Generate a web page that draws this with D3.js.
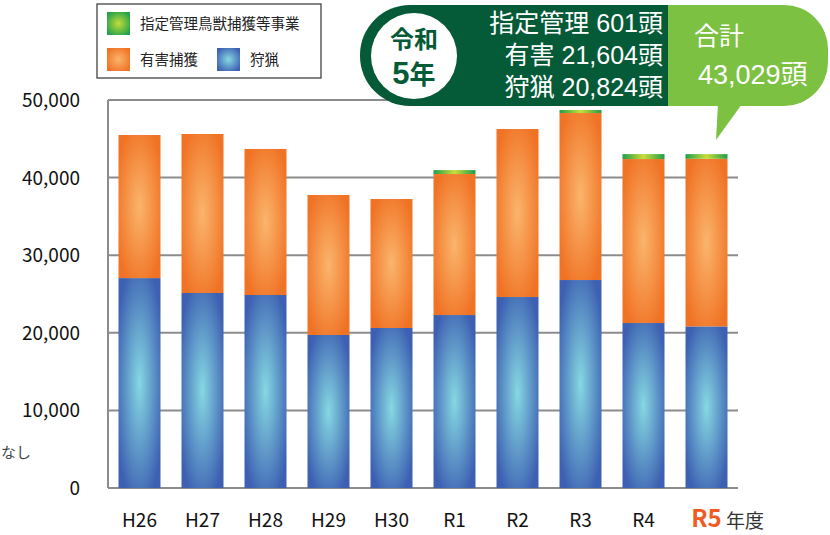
<!DOCTYPE html>
<html>
<head>
<meta charset="utf-8">
<script src="https://cdn.jsdelivr.net/npm/d3@7"></script>
<style>
  body { margin: 0; background: #fff; }
  svg { display: block; font-family: "Noto Sans CJK JP", "Noto Sans", sans-serif; }
  .cl { font-family: "Liberation Sans", "Noto Sans CJK JP", sans-serif; }
</style>
</head>
<body>
<div class="bar-chart"></div>
<script>
// data
const years = ['H26', 'H27', 'H28', 'H29', 'H30', 'R1', 'R2', 'R3', 'R4', 'R5'];
const hunting = [27050, 25130, 24870, 19720, 20620, 22290, 24610, 26800, 21260, 20824];
const nuisance = [18440, 20490, 18820, 18040, 16620, 18170, 21650, 21520, 21130, 21604];
const managed = [0, 0, 0, 0, 0, 510, 0, 390, 640, 601];
const yTicks = [0, 10000, 20000, 30000, 40000, 50000];

const margin = {top: 100, right: 92, bottom: 47, left: 108};
const width = 830, height = 535;
const innerW = width - margin.left - margin.right;
const innerH = height - margin.top - margin.bottom;

const svg = d3.select('.bar-chart').append('svg')
  .attr('width', width)
  .attr('height', height);

// gradients
const defs = svg.append('defs');
function radial(id, inner, outer) {
  let g = defs.append('radialGradient').attr('id', id)
    .attr('cx', '50%').attr('cy', '50%').attr('r', '60%');
  g.append('stop').attr('offset', '0%').attr('stop-color', inner);
  g.append('stop').attr('offset', '100%').attr('stop-color', outer);
}
radial('gBlue', '#86d8e2', '#3d60b2');
radial('gOrange', '#fab56c', '#f07224');
radial('gGreen', '#c6dc3a', '#22a24a');
let lg = defs.append('linearGradient').attr('id', 'gGreenBar');
lg.append('stop').attr('offset', '0%').attr('stop-color', '#1f9e4c');
lg.append('stop').attr('offset', '50%').attr('stop-color', '#c9dd38');
lg.append('stop').attr('offset', '100%').attr('stop-color', '#1f9e4c');

const g = svg.append('g')
  .attr('transform', 'translate(' + margin.left + ',' + margin.top + ')');

const x = d3.scaleBand().domain(years).range([0, innerW]).paddingInner(1 / 3).paddingOuter(1 / 6);
const y = d3.scaleLinear().domain([0, 50000]).range([innerH, 0]);

// grid
g.selectAll('.grid').data(yTicks).enter().append('line')
  .attr('x1', 0).attr('x2', innerW)
  .attr('y1', d => y(d)).attr('y2', d => y(d))
  .attr('stroke', '#8c8c8c').attr('stroke-width', 2);
g.append('line').attr('x1', 0).attr('x2', 0).attr('y1', 0).attr('y2', innerH)
  .attr('stroke', '#8c8c8c').attr('stroke-width', 2);

// stacks
const rows = years.map((yr, i) => ({year: yr, hunting: hunting[i], nuisance: nuisance[i], managed: managed[i]}));
const stack = d3.stack().keys(['hunting', 'nuisance', 'managed'])(rows);
const fills = {hunting: 'url(#gBlue)', nuisance: 'url(#gOrange)', managed: 'url(#gGreenBar)'};

stack.forEach(layer => {
  g.selectAll('.bar-' + layer.key).data(layer.filter(d => d[1] > d[0])).enter().append('rect')
    .attr('class', 'bar-' + layer.key)
    .attr('x', d => x(d.data.year))
    .attr('width', x.bandwidth())
    .attr('y', d => y(d[1]))
    .attr('height', d => y(d[0]) - y(d[1]))
    .attr('fill', fills[layer.key]);
});

// y labels
g.selectAll('.ylab').data(yTicks).enter().append('text')
  .attr('x', -28).attr('y', d => y(d) + 7)
  .attr('text-anchor', 'end')
  .attr('font-size', 19).attr('fill', '#111')
  .text(d => d3.format(',')(d));

svg.append('text').attr('x', 1).attr('y', 458)
  .attr('font-size', 15).attr('fill', '#444').text('なし');

// x labels
g.selectAll('.xlab').data(years).enter().append('text')
  .attr('x', d => x(d) + x.bandwidth() / 2)
  .attr('y', innerH + 39)
  .attr('text-anchor', 'middle')
  .attr('font-size', d => d === 'R5' ? 24 : 19)
  .attr('font-weight', d => d === 'R5' ? 'bold' : 'normal')
  .attr('fill', d => d === 'R5' ? '#f15a24' : '#111')
  .text(d => d);
svg.append('text').attr('x', 726).attr('y', 528).attr('font-size', 19).attr('fill', '#333').text('年度');

// legend
const leg = svg.append('g');
leg.append('rect').attr('x', 97).attr('y', 4).attr('width', 224).attr('height', 74)
  .attr('fill', '#fff').attr('stroke', '#333').attr('stroke-width', 1.2);
const legItems = [
  {label: '指定管理鳥獣捕獲等事業', fill: 'url(#gGreen)', x: 107, y: 12},
  {label: '有害捕獲', fill: 'url(#gOrange)', x: 107, y: 48},
  {label: '狩猟', fill: 'url(#gBlue)', x: 217, y: 48}
];
legItems.forEach(it => {
  leg.append('rect').attr('x', it.x).attr('y', it.y).attr('width', 23).attr('height', 23).attr('fill', it.fill);
  leg.append('text').attr('x', it.x + 33).attr('y', it.y + 17).attr('font-size', 14.5).attr('fill', '#222').text(it.label);
});

// callout
const co = svg.append('g');
co.append('path')
  .attr('d', 'M718,104 L716,140 L742,104 Z').attr('fill', '#7cc142');
co.append('path')
  .attr('d', 'M640,5 H784 A44,44 0 0 1 828,49 V62 A44,44 0 0 1 784,106 H640 Z')
  .attr('fill', '#7cc142');
co.append('path')
  .attr('d', 'M410,5 H668 V106 H410 A50,50 0 0 1 360,56 V55 A50,50 0 0 1 410,5 Z')
  .attr('fill', '#055a37');
co.append('circle').attr('cx', 414).attr('cy', 56).attr('r', 43).attr('fill', '#fff');
co.append('text').attr('class', 'cl').attr('x', 414).attr('y', 48).attr('text-anchor', 'middle')
  .attr('font-size', 24).attr('font-weight', 'bold').attr('fill', '#055a37').text('令和');
co.append('text').attr('class', 'cl').attr('x', 414).attr('y', 84).attr('text-anchor', 'middle')
  .attr('font-weight', 'bold').attr('fill', '#055a37')
  .call(t => {
    t.append('tspan').attr('font-size', 31).text('5');
    t.append('tspan').attr('font-size', 26).text('年');
  });

const lines = ['指定管理 601頭', '有害 21,604頭', '狩猟 20,824頭'];
co.selectAll('.cline').data(lines).enter().append('text')
  .attr('class', 'cl')
  .attr('x', 663).attr('y', (d, i) => 32 + i * 32)
  .attr('text-anchor', 'end')
  .attr('font-size', 25).attr('fill', '#fff').text(d => d);
co.append('text').attr('x', 694).attr('y', 45).attr('font-size', 25).attr('fill', '#fff').text('合計');
co.append('text').attr('class', 'cl').attr('x', 698).attr('y', 84).attr('font-size', 27).attr('fill', '#fff').text('43,029頭');
</script>
</body>
</html>
